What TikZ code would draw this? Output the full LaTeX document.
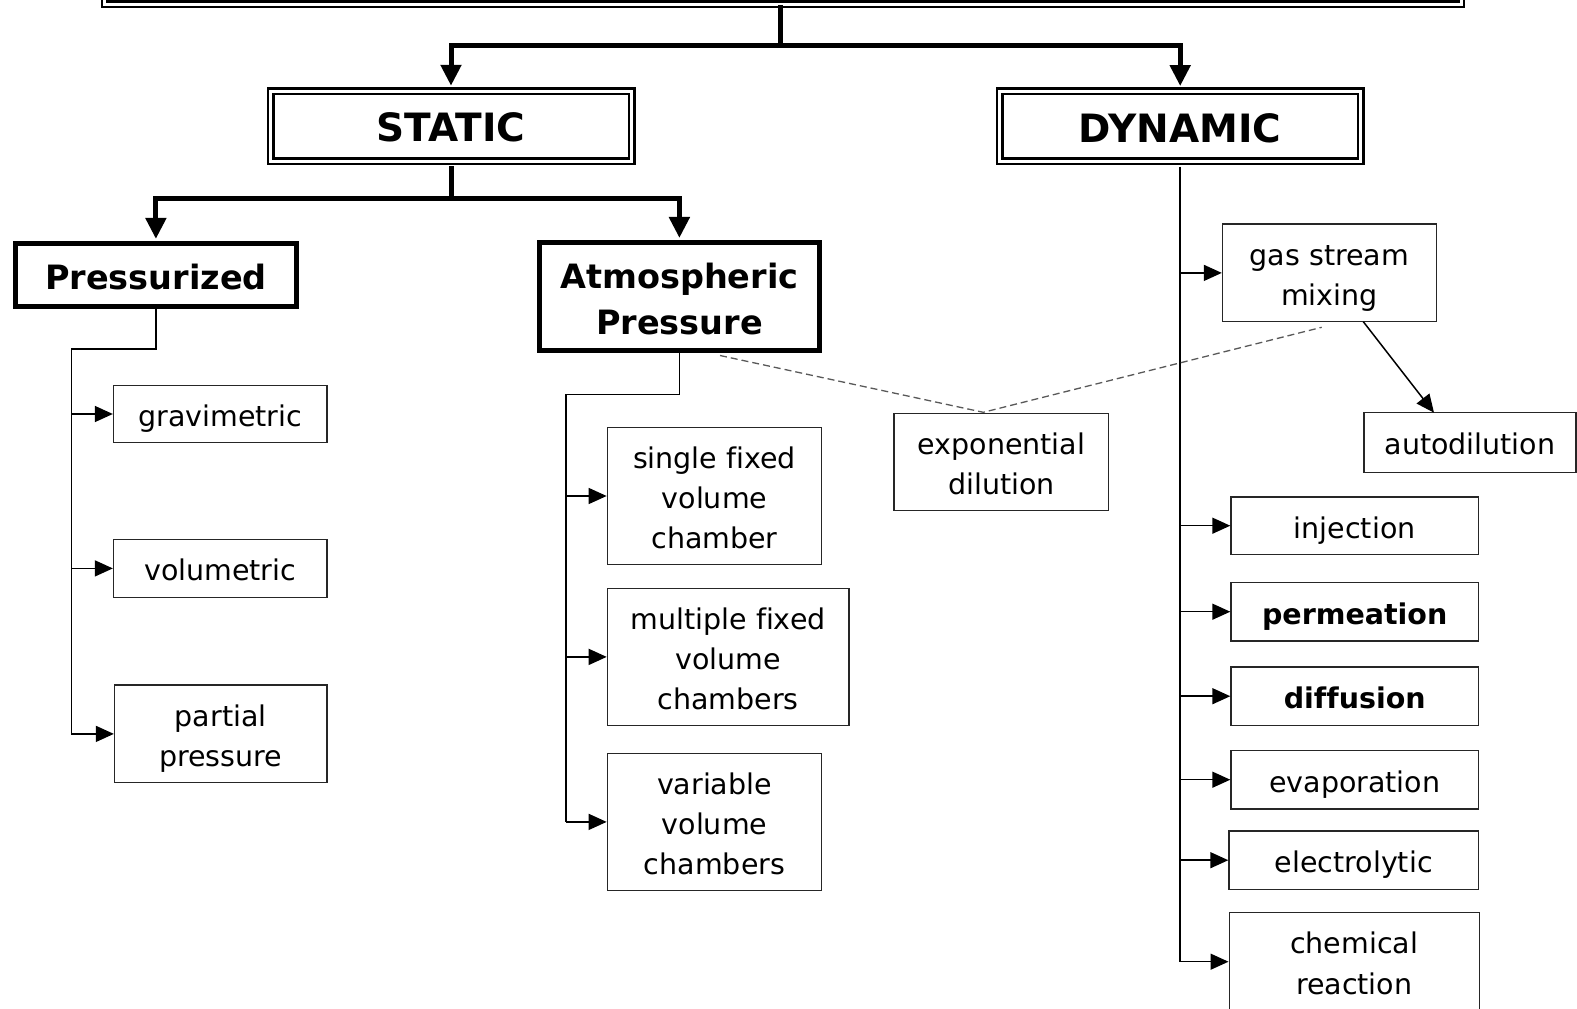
\documentclass[tikz,border=0pt]{standalone}
\usepackage{fontspec}
\setmainfont{DejaVu Sans}[Ligatures=NoCommon]
\usetikzlibrary{arrows.meta}

% centred lines of box text, dropped by \textdrop without changing the box size
\newcommand{\textdrop}{0pt}
\newcommand{\boxlines}[1]{\raisebox{\textdrop}[\height][\depth]{\begin{tabular}{@{}c@{}}#1\end{tabular}}}

\tikzset{
  thinbox/.style={draw=black!85, line width=1.4pt, rectangle, inner sep=0pt,
    font=\fontsize{28.5pt}{40.2pt}\selectfont\renewcommand{\textdrop}{-4.3pt}},
  thinbold/.style={thinbox,
    font=\fontsize{28.5pt}{40.2pt}\selectfont\bfseries\renewcommand{\textdrop}{-4.3pt}},
  thickbox/.style={draw=black, line width=5pt, rectangle, inner sep=0pt,
    font=\fontsize{33.5pt}{46.5pt}\selectfont\bfseries\renewcommand{\textdrop}{-5.4pt}},
  dblbox/.style={draw=black, double=white, line width=2.5pt, double distance=3pt,
    rectangle, inner sep=0pt,
    font=\fontsize{39pt}{46pt}\selectfont\bfseries\renewcommand{\textdrop}{-6.5pt}},
  heavyline/.style={line width=5pt, black},
  heavyarrow/.style={line width=5pt, black, -{Triangle[length=21pt,width=20pt]}},
  link/.style={line width=1.5pt, black},
  linkarrow/.style={line width=1.5pt, black, -{Triangle[length=18pt,width=16pt]}},
  dashlink/.style={line width=1.3pt, black!65, dash pattern=on 7pt off 4pt},
}

\begin{document}
\begin{tikzpicture}[x=1pt, y=-1pt]
\useasboundingbox (0,0) rectangle (1577,1009);
\clip (0,0) rectangle (1577,1009);

% top-level frame
\node[dblbox, minimum width=1356.7pt, minimum height=128pt] (root) at (783,-60) {};

% second level
\node[dblbox, minimum width=361pt, minimum height=70pt] (static) at (451,126) {\boxlines{STATIC}};
\node[dblbox, minimum width=361pt, minimum height=70pt] (dynamic) at (1180.2,126.3) {\boxlines{DYNAMIC}};

% static branches
\node[thickbox, minimum width=280.6pt, minimum height=62.4pt] (press) at (155.9,275.1) {\boxlines{Pressurized}};
\node[thickbox, minimum width=279.7pt, minimum height=107.7pt] (atmo) at (679.4,296.8) {\boxlines{Atmospheric\\Pressure}};

% pressurized methods
\node[thinbox, minimum width=213.3pt, minimum height=57.3pt] (grav) at (220.2,414) {\boxlines{gravimetric}};
\node[thinbox, minimum width=213.3pt, minimum height=58.4pt] (vol) at (220.2,568.4) {\boxlines{volumetric}};
\node[thinbox, minimum width=212.3pt, minimum height=97.7pt] (part) at (220.7,733.9) {\boxlines{partial\\pressure}};

% atmospheric pressure methods
\node[thinbox, minimum width=214.3pt, minimum height=136.8pt] (single) at (714.5,496) {\boxlines{single fixed\\volume\\chamber}};
\node[thinbox, minimum width=241.4pt, minimum height=136.8pt] (multi) at (728.1,656.9) {\boxlines{multiple fixed\\volume\\chambers}};
\node[thinbox, minimum width=214.3pt, minimum height=136.8pt] (var) at (714.5,821.9) {\boxlines{variable\\volume\\chambers}};

\node[thinbox, minimum width=214.5pt, minimum height=97.5pt] (expo) at (1001.4,462) {\boxlines{exponential\\dilution}};

% dynamic methods
\node[thinbox, minimum width=214pt, minimum height=97.7pt] (gas) at (1329.5,272.9) {\boxlines{gas stream\\mixing}};
\node[thinbox, minimum width=212pt, minimum height=59.6pt] (auto) at (1470,442.5) {\boxlines{autodilution}};
\node[thinbox, minimum width=247.4pt, minimum height=57.3pt] (inj) at (1354.7,525.7) {\boxlines{injection}};
\node[thinbold, minimum width=247.4pt, minimum height=58.3pt] (perm) at (1354.7,611.7) {\boxlines{permeation}};
\node[thinbold, minimum width=247.4pt, minimum height=58.3pt] (diff) at (1354.7,696.2) {\boxlines{diffusion}};
\node[thinbox, minimum width=247.4pt, minimum height=58.3pt] (evap) at (1354.7,779.7) {\boxlines{evaporation}};
\node[thinbox, minimum width=249.4pt, minimum height=58.3pt] (elec) at (1353.7,860.2) {\boxlines{electrolytic}};
\node[thinbox, minimum width=250pt, minimum height=98pt] (chem) at (1354.2,961.7) {\boxlines{chemical\\reaction}};

% heavy connectors from the frame
\coordinate (j0) at (780.4,45.3);
\draw[heavyline] (root.south -| j0) -- (j0);
\draw[heavyarrow, shorten >=4pt] (j0) -| (static.north);
\draw[heavyarrow, shorten >=4pt] (j0) -| (dynamic.north);

\coordinate (j1) at (451,198.2);
\draw[heavyline] (static.south) ++(0,4) -- (j1);
\draw[heavyarrow, shorten >=2.5pt] (j1) -| (press.north);
\draw[heavyarrow, shorten >=2.5pt] (j1) -| (atmo.north);

% pressurized tree
\coordinate (pa) at (71.4,349);
\draw[link] (press.south) |- (pa) -- (pa |- part.west);
\foreach \n in {grav,vol,part}
  \draw[linkarrow] (pa |- \n.west) -- (\n.west);

% atmospheric tree
\coordinate (aa) at (566.2,394.4);
\draw[link] (atmo.south) |- (aa) -- (aa |- var.west);
\foreach \n in {single,multi,var}
  \draw[linkarrow] (aa |- \n.west) -- (\n.west);

% dynamic tree
\draw[link] (dynamic.south) ++(0,4) -- (dynamic.south |- chem.west);
\foreach \n in {gas,inj,perm,diff,evap,elec,chem}
  \draw[linkarrow] (dynamic.south |- \n.west) -- (\n.west);

% gas stream mixing to autodilution
\coordinate (g0) at (1363.3,321.7);
\coordinate (a0) at (1434,412.7);
\draw[linkarrow] (g0) -- (a0);

% dashed links to exponential dilution
\coordinate (d1) at (720,355.5);
\coordinate (d2) at (983.3,412.3);
\coordinate (d3) at (1321.7,327.3);
\draw[dashlink] (d1) -- (d2) -- (d3);
\end{tikzpicture}
\end{document}
